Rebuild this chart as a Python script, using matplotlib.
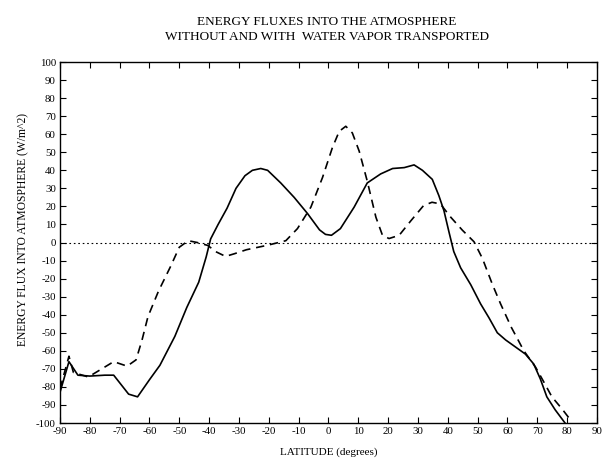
import matplotlib
matplotlib.use("Agg")
import matplotlib.pyplot as plt

plt.rcParams["font.family"] = ["Liberation Serif", "DejaVu Serif"]
plt.rcParams["axes.unicode_minus"] = False

# 不考虑水汽输送 (实线)
lat_without = [-90, -87, -84, -80, -75, -72, -67, -64, -60, -56.5, -51.5, -47.5,
               -43.5, -41, -39.5, -37, -34, -31, -28, -25.5, -22.7, -20.4, -16, -11.5,
               -7, -3, -1, 1, 4, 8.6, 13, 17.5, 21.5, 25.4, 28.7, 31.5, 34.8, 37,
               38.7, 40.4, 42, 44.3, 47.7, 51, 53.8, 56.6, 59.4, 62.2, 66, 68.8,
               71, 73.2, 76, 79.3]
flux_without = [-83, -66, -73.5, -74, -73.5, -73.5, -84, -85.5, -76, -68, -52, -36,
                -22, -8, 2, 10, 19, 30, 37, 40, 41, 40, 33, 25,
                16, 7, 4.5, 4, 7.7, 19.6, 33, 38, 41, 41.5, 43, 40, 35, 26,
                17.7, 5.8, -5, -14, -23.4, -34, -41.7, -50, -54, -57.3, -61.8, -67.3,
                -75.5, -85.5, -92.7, -100]

# 考虑水汽输送 (虚线)
lat_with = [-90, -87, -85.5, -80.5, -77, -72, -67.5, -64.5, -62.5, -60.5, -57, -53,
            -50, -47, -44, -40.5, -37.5, -34.5, -31.5, -27.5, -20.4, -14.3, -10.4,
            -5.9, -2, 1.3, 3.6, 5.8, 8, 10.3, 13, 15.9, 18.1, 20.3, 23.7, 27.6,
            31.9, 34.7, 37.5, 41, 44.9, 48.8, 51.6, 55, 57.7, 61.3, 65.5, 69.4,
            72.1, 74.9, 78.2, 81]
flux_with = [-81, -63, -72, -74.5, -71, -66, -68.5, -65, -54, -41, -27, -13.5,
             -2.6, 1, 0, -1.6, -5.3, -7.7, -6.2, -4, -1.5, 1, 7.7,
             19.6, 36, 52.5, 61.6, 64.4, 60.7, 50.6, 34, 14, 4, 2.2, 4, 12,
             20.5, 22.3, 21.4, 14, 6.8, 0.4, -8.8, -23.4, -34, -47, -60, -69,
             -77, -85.5, -92, -98]

x_ticks = list(range(-90, 91, 10))
y_ticks = list(range(-100, 101, 10))

fig = plt.figure(figsize=(6.11, 4.58), dpi=100)
ax = fig.add_axes([0.0982, 0.0764, 0.8788, 0.7882])

ax.plot(lat_without, flux_without, color="black", linewidth=1.2)
ax.plot(lat_with, flux_with, color="black", linewidth=1.2, linestyle=(0, (5, 3.5)))
ax.axhline(0, color="black", linewidth=0.8, linestyle=(0, (1.5, 2.5)))

ax.set_xlim(-90, 90)
ax.set_ylim(-100, 100)
ax.set_xticks(x_ticks)
ax.set_xticklabels([str(v) for v in x_ticks])
ax.set_yticks(y_ticks)
ax.set_yticklabels([str(v) for v in y_ticks])
ax.tick_params(direction="in", top=True, right=True, length=4, width=0.8,
               labelsize=7.8, pad=3)
for sp in ax.spines.values():
    sp.set_linewidth(1.0)

ax.set_xlabel("LATITUDE (degrees)", fontsize=8, labelpad=8)
ax.set_ylabel("ENERGY FLUX INTO ATMOSPHERE (W/m^2)", fontsize=8.4, labelpad=4)
ax.yaxis.set_label_coords(-0.057, 0.536)

fig.text(0.535, 0.952, "ENERGY FLUXES INTO THE ATMOSPHERE", ha="center",
         va="center", fontsize=9.5)
fig.text(0.535, 0.919, "WITHOUT AND WITH  WATER VAPOR TRANSPORTED", ha="center",
         va="center", fontsize=9.5)

fig.savefig("out.png", dpi=100)
